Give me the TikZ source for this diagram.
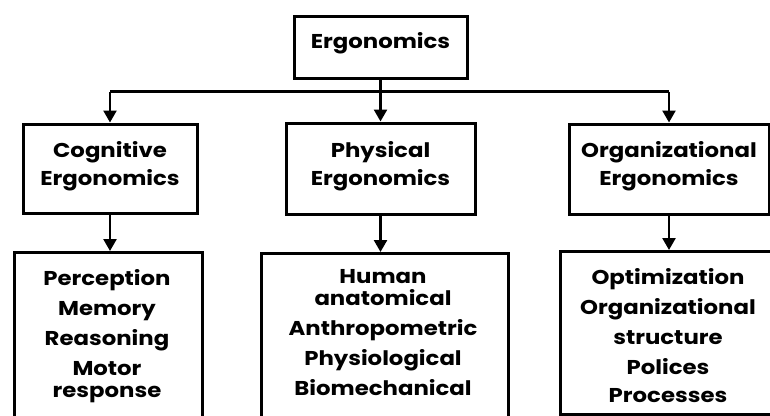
\documentclass[tikz,border=0pt]{standalone}
\usepackage{fontspec}
\setmainfont{Poppins}[FakeStretch=1.14]
\usetikzlibrary{arrows.meta}
\begin{document}
\begin{tikzpicture}[x=1pt,y=-1pt,
  box/.style={draw=black,line width=3pt,fill=white,inner sep=0pt},
  lbl/.style={align=center,inner sep=0pt,font=\fontsize{20}{30}\selectfont\bfseries},
  conn/.style={line width=2.5pt,draw=black},
  arr/.style={conn,-{Triangle[width=13pt,length=12pt]}}]
\useasboundingbox (0,0) rectangle (770,415);
\clip (0,0) rectangle (770,415);
\fill[white] (0,0) rectangle (770,415);
% top
\node[box,minimum width=173pt,minimum height=62pt] (top) at (380.5,47) {};
\node[lbl] (toptxt) at (380.5,43) {Ergonomics};
% middle row
\node[box,minimum width=174pt,minimum height=89pt] (cog) at (110,168.5) {};
\node[box,minimum width=189pt,minimum height=91pt] (phy) at (380.5,168.5) {};
\node[box,minimum width=200pt,minimum height=90pt] (org) at (669,169) {};
\node[lbl] (cogtxt) at (110,166) {Cognitive\\[-2pt]Ergonomics};
\node[lbl] (phytxt) at (380.5,166) {Physical\\[-2pt]Ergonomics};
\node[lbl] (orgtxt) at (669,166) {Organizational\\[-2pt]Ergonomics};
% bottom row
\node[box,anchor=north west,minimum width=188pt,minimum height=200pt] (cogb) at (13,251) {};
\node[box,anchor=north west,minimum width=247pt,minimum height=200pt] (phyb) at (260,252) {};
\node[box,anchor=north west,minimum width=240pt,minimum height=163pt] (orgb) at (559,250) {};
\node[lbl,anchor=north] (cogbtxt) at (107,269) {Perception\\Memory\\Reasoning\\Motor\\[-8pt]response};
\node[lbl,anchor=north] (phybtxt) at (383,269) {Human\\[-8pt]anatomical\\Anthropometric\\Physiological\\Biomechanical};
\node[lbl,anchor=north] (orgbtxt) at (668,268) {Optimization\\Organizational\\structure\\Polices\\[-2pt]Processes};
% connectors
\coordinate (hub) at ([yshift=-12pt]top.south);
\draw[conn] (top.south) -- (hub);
\draw[conn] (cog.north |- hub) -- (org.north |- hub);
\draw[arr] (hub) -- (phy.north);
\draw[arr] (cog.north |- hub) -- (cog.north);
\draw[arr] (org.north |- hub) -- (org.north);
\draw[arr] (cog.south) -- (cog.south |- cogb.north);
\draw[arr] (phy.south) -- (phy.south |- phyb.north);
\draw[arr] (org.south) -- (org.south |- orgb.north);
\end{tikzpicture}
\end{document}
